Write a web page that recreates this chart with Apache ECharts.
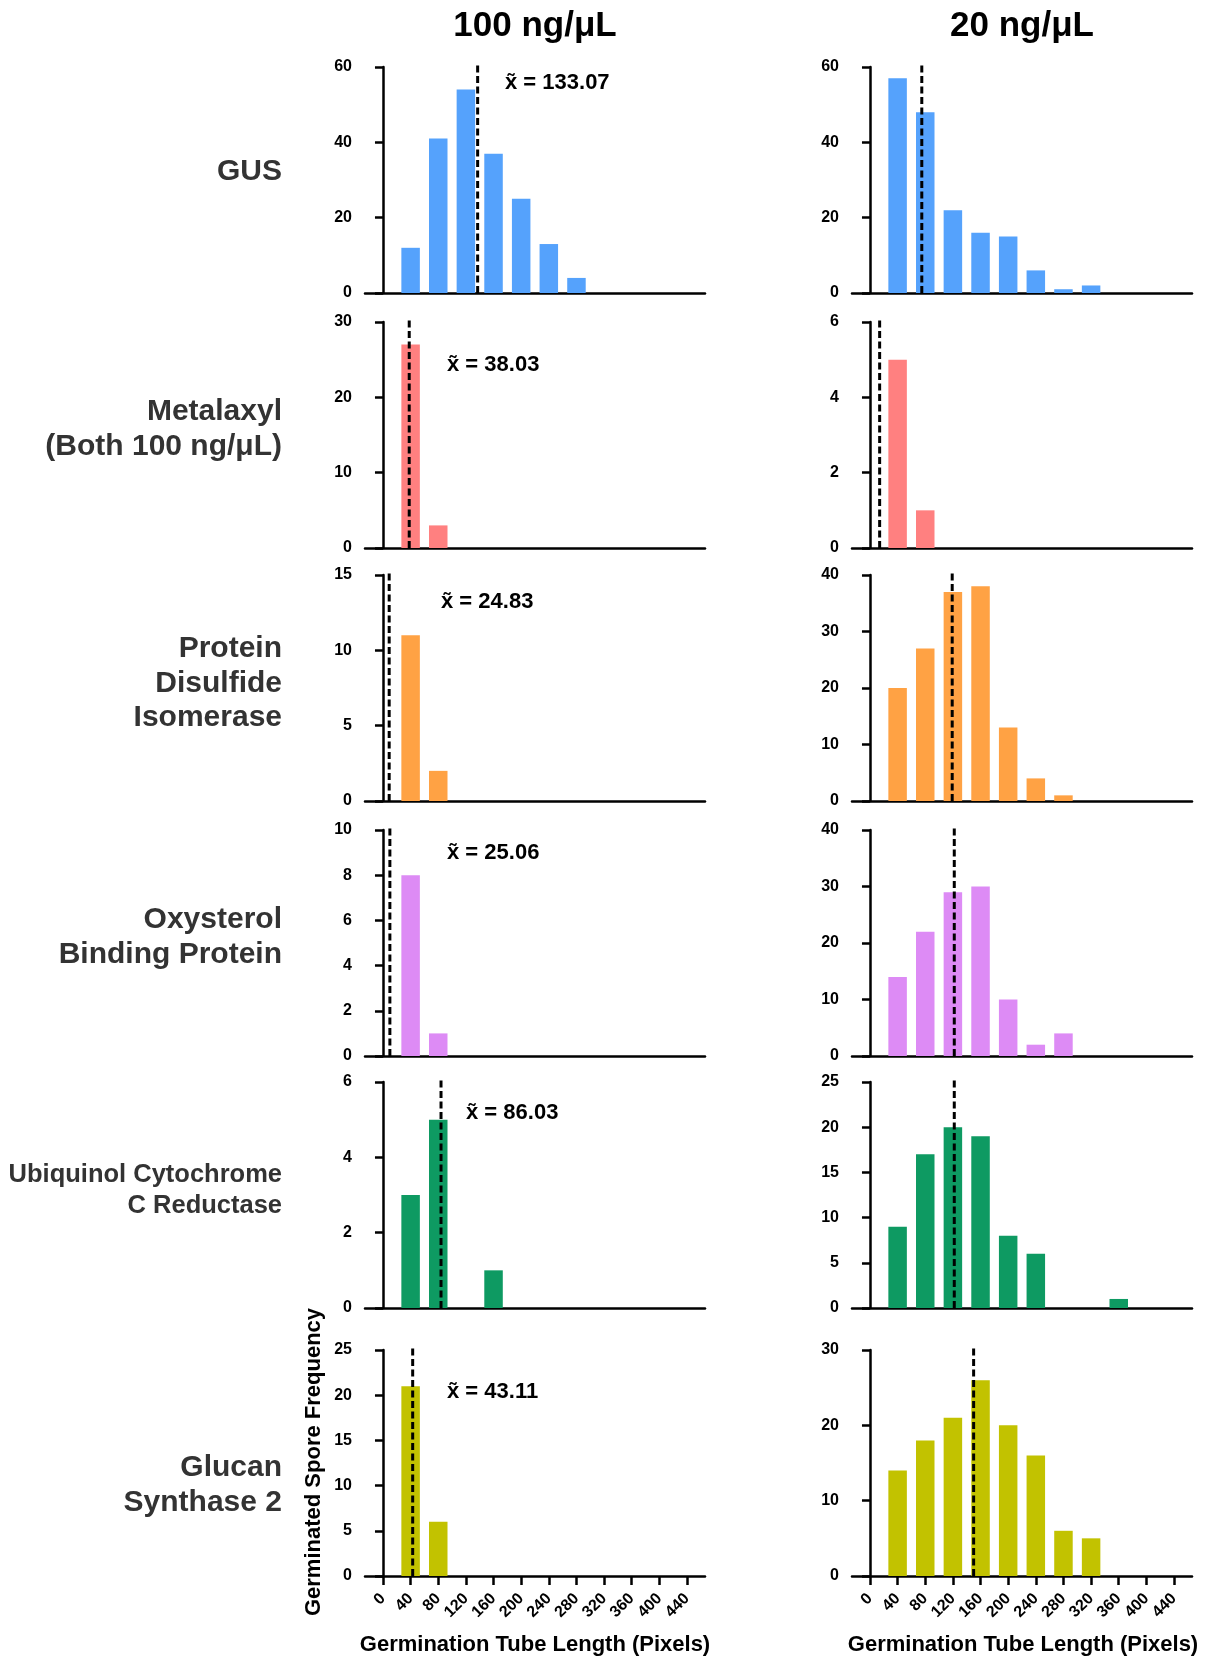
<!DOCTYPE html>
<html>
<head>
<meta charset="utf-8">
<script src="https://cdn.jsdelivr.net/npm/echarts@6/dist/echarts.min.js"></script>
<style>
html,body{margin:0;padding:0;background:#fff;}
#chart{width:1207px;height:1659px;}
</style>
</head>
<body>
<div id="chart"></div>
<script>
// ---------------- DATA ----------------
const binCenters = [40, 80, 120, 160, 200, 240, 280, 320, 360];
const xTickValues = [0, 40, 80, 120, 160, 200, 240, 280, 320, 360, 400, 440];

const rowNames = [
  ['GUS'],
  ['Metalaxyl', '(Both 100 ng/μL)'],
  ['Protein', 'Disulfide', 'Isomerase'],
  ['Oxysterol', 'Binding Protein'],
  ['Ubiquinol Cytochrome', 'C Reductase'],
  ['Glucan', 'Synthase 2']
];
const columnTitles = ['100 ng/μL', '20 ng/μL'];

// counts per bin (bins centred at 40, 80, 120, ...)
const gus100  = [12, 41, 54, 37, 25, 13, 4];
const gus20   = [57, 48, 22, 16, 15, 6, 1, 2];
const met100  = [27, 3];
const met20   = [5, 1];
const pdi100  = [11, 2];
const pdi20   = [20, 27, 37, 38, 13, 4, 1];
const osbp100 = [8, 1];
const osbp20  = [14, 22, 29, 30, 10, 2, 4];
const ucr100  = [3, 5, 0, 1];
const ucr20   = [9, 17, 20, 19, 8, 6, 0, 0, 1];
const gs100   = [21, 6];
const gs20    = [14, 18, 21, 26, 20, 16, 6, 5];

const leftCounts  = [gus100, met100, pdi100, osbp100, ucr100, gs100];
const rightCounts = [gus20, met20, pdi20, osbp20, ucr20, gs20];

// median (dashed line) positions as drawn
const leftMedianLine  = [137, 38, 9, 10, 84, 43];
const rightMedianLine = [75, 14, 119, 122, 122, 150];
const leftMedianText  = ['133.07', '38.03', '24.83', '25.06', '86.03', '43.11'];

// y axis ranges
const leftYMax  = [60, 30, 15, 10, 6, 25];
const leftYInt  = [20, 10, 5, 2, 2, 5];
const rightYMax = [60, 6, 40, 40, 25, 30];
const rightYInt = [20, 2, 10, 10, 5, 10];

const rowColors = ['#55A2FC', '#FF8080', '#FFA244', '#DD8BF5', '#0E9A62', '#C2C200'];

// ---------------- LAYOUT ----------------
const FONT = '"Liberation Sans", Arial, Helvetica, sans-serif';
const rowTops = [67, 322, 575, 830, 1082, 1350];
const plotH = 226;
const colLefts = [365, 852];
const plotW = 340;
const xMin = -26, xMax = 466;
const medianLabelPos = [[505, 85], [447, 367], [441, 604], [447, 855], [466, 1115], [447, 1394]];
const rowLabelY = [
  [172],
  [412, 447],
  [649, 684, 718],
  [920, 955],
  [1175, 1206],
  [1468, 1503]
];
const rowLabelSize = [30, 30, 30, 30, 25.5, 30];

const grids = [], xAxes = [], yAxes = [], series = [], graphics = [];
let idx = 0;
for (let r = 0; r < 6; r++) {
  for (let c = 0; c < 2; c++) {
    const counts = c === 0 ? leftCounts[r] : rightCounts[r];
    const yMax = c === 0 ? leftYMax[r] : rightYMax[r];
    const yInt = c === 0 ? leftYInt[r] : rightYInt[r];
    const med = c === 0 ? leftMedianLine[r] : rightMedianLine[r];
    const bottom = r === 5;
    grids.push({left: colLefts[c], top: rowTops[r], width: plotW, height: plotH});
    xAxes.push({
      type: 'value', gridIndex: idx, min: xMin, max: xMax,
      splitLine: {show: false},
      axisLine: {show: true, onZero: false, lineStyle: {color: '#000', width: 2.5}},
      axisTick: {show: bottom, length: 9, inside: false, customValues: xTickValues,
                 lineStyle: {color: '#000', width: 2.5}},
      axisLabel: {show: bottom, customValues: xTickValues, rotate: 45, margin: 20,
                  fontFamily: FONT, fontWeight: 'bold', fontSize: 16, color: '#000'}
    });
    yAxes.push({
      type: 'value', gridIndex: idx, min: 0, max: yMax, interval: yInt,
      splitLine: {show: false},
      axisLine: {show: true, lineStyle: {color: '#000', width: 2.5}},
      axisTick: {show: true, length: 8, lineStyle: {color: '#000', width: 2.5}},
      axisLabel: {margin: 13, fontFamily: FONT, fontWeight: 'bold', fontSize: 16, color: '#000'}
    });
    series.push({
      type: 'bar', xAxisIndex: idx, yAxisIndex: idx,
      barWidth: 18.5,
      itemStyle: {color: rowColors[r]},
      data: counts.map((v, i) => [binCenters[i], v])
    });
    series.push({
      type: 'line', xAxisIndex: idx, yAxisIndex: idx,
      symbol: 'none', clip: false, z: 5,
      lineStyle: {color: '#000', width: 3, type: [7, 3.5]},
      data: [[med, 0], [med, yMax * 1.02]]
    });
    idx++;
  }
  // median text (left column)
  graphics.push({
    type: 'text', left: medianLabelPos[r][0], top: medianLabelPos[r][1] - 13,
    style: {text: 'x\u0303 = ' + leftMedianText[r], font: 'bold 22px ' + FONT, fill: '#000'}
  });
  // row label
  rowNames[r].forEach((line, k) => {
    graphics.push({
      type: 'text', x: 282, y: rowLabelY[r][k],
      style: {text: line, font: 'bold ' + rowLabelSize[r] + 'px ' + FONT, fill: '#333',
              align: 'right', verticalAlign: 'middle'}
    });
  });
}
// column titles
columnTitles.forEach((t, c) => {
  graphics.push({
    type: 'text', x: [535, 1022][c], y: 26,
    style: {text: t, font: 'bold 35px ' + FONT, fill: '#000', align: 'center', verticalAlign: 'middle'}
  });
  graphics.push({
    type: 'text', x: [535, 1023][c], y: 1645,
    style: {text: 'Germination Tube Length (Pixels)', font: 'bold 22px ' + FONT, fill: '#000',
            align: 'center', verticalAlign: 'middle'}
  });
});
// y axis title
graphics.push({
  type: 'text', x: 314, y: 1462, rotation: Math.PI / 2,
  style: {text: 'Germinated Spore Frequency', font: 'bold 22px ' + FONT, fill: '#000',
          align: 'center', verticalAlign: 'middle'}
});

const chart = echarts.init(document.getElementById('chart'), null, {renderer: 'canvas'});
chart.setOption({
  animation: false,
  backgroundColor: '#fff',
  grid: grids, xAxis: xAxes, yAxis: yAxes, series: series,
  graphic: graphics
});
</script>
</body>
</html>
